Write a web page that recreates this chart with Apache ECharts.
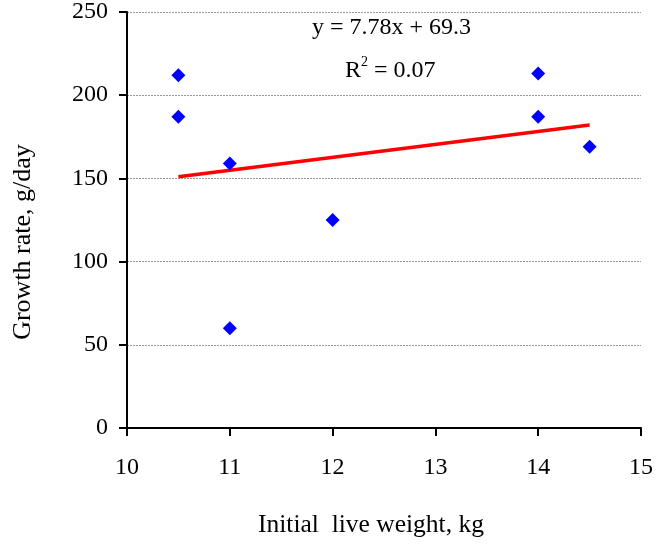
<!DOCTYPE html>
<html>
<head>
<meta charset="utf-8">
<script src="https://cdn.jsdelivr.net/npm/echarts@6/dist/echarts.min.js"></script>
<style>html,body{margin:0;padding:0;background:#fff;}#c{width:656px;height:544px;}</style>
</head>
<body>
<div id="c"></div>
<script>
var weightX = [10.5, 10.5, 11, 11, 12, 14, 14, 14.5];
var growthY = [212, 187, 159, 60, 125, 213, 187, 169];
var trendX = [10.5, 14.5];
var trendY = [151.0, 182.1];
var eqText = 'y = 7.78x + 69.3';
var r2Text = '0.07';
var xTitle = 'Initial  live weight, kg';
var yTitle = 'Growth rate, g/day';

var font = 'Liberation Serif';
var chart = echarts.init(document.getElementById('c'), null, {renderer: 'canvas'});
chart.setOption({
  animation: false,
  backgroundColor: '#fff',
  grid: {left: 127, right: 13, top: 12, bottom: 116, containLabel: false},
  xAxis: {
    type: 'value', min: 10, max: 15, interval: 1,
    axisLine: {show: true, lineStyle: {color: '#000', width: 2}},
    axisTick: {show: true, inside: false, length: 8, lineStyle: {color: '#000', width: 2}},
    axisLabel: {color: '#000', fontFamily: font, fontSize: 24, margin: 28},
    splitLine: {show: false}
  },
  yAxis: {
    type: 'value', min: 0, max: 250, interval: 50,
    axisLine: {show: true, lineStyle: {color: '#000', width: 2}},
    axisTick: {show: true, inside: false, length: 8, lineStyle: {color: '#000', width: 2}},
    axisLabel: {color: '#000', fontFamily: font, fontSize: 24, margin: 19},
    splitLine: {show: true, lineStyle: {color: '#999', width: 1, type: [2, 1]}}
  },
  series: [
    {
      type: 'line',
      data: trendX.map(function (x, i) { return [x, trendY[i]]; }),
      showSymbol: false,
      lineStyle: {color: '#ff0000', width: 3.5},
      z: 2
    },
    {
      type: 'scatter',
      data: weightX.map(function (x, i) { return [x, growthY[i]]; }),
      symbol: 'diamond',
      symbolSize: [14, 14],
      itemStyle: {color: '#0000ff', opacity: 1},
      z: 3
    }
  ],
  graphic: [
    {type: 'text', left: 312, top: 16, style: {text: eqText, font: '24px "Liberation Serif"', fill: '#000'}},
    {type: 'text', left: 345, top: 55, style: {
      text: '{r|R}{s|2}{r| = ' + r2Text + '}',
      rich: {
        r: {fontFamily: font, fontSize: 24, fill: '#000', color: '#000', verticalAlign: 'bottom', lineHeight: 28},
        s: {fontFamily: font, fontSize: 14, fill: '#000', color: '#000', verticalAlign: 'top', lineHeight: 28}
      }
    }},
    {type: 'text', left: 258, top: 512, style: {text: xTitle, font: '25.5px "Liberation Serif"', fill: '#000'}},
    {type: 'text', x: 10, y: 242, rotation: Math.PI / 2, style: {text: yTitle, font: '26px "Liberation Serif"', fill: '#000', align: 'center', verticalAlign: 'top'}}
  ]
});
</script>
</body>
</html>
